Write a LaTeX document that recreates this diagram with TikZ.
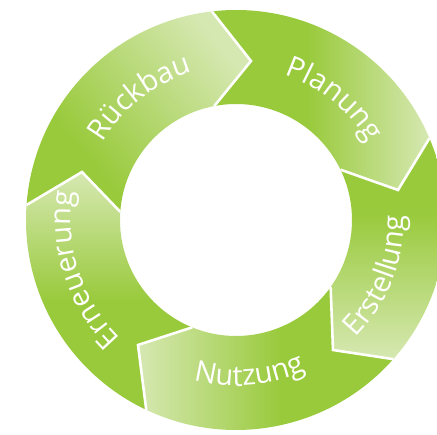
\documentclass[tikz,border=0pt]{standalone}
\usepackage{fontspec}
\setmainfont{Open Sans}
\usetikzlibrary{decorations.text}
\definecolor{ringgreen}{RGB}{153,202,60}
\definecolor{ringlight}{RGB}{214,232,178}
\pgfdeclarehorizontalshading{shPl}{100bp}{color(0bp)=(ringgreen); color(47bp)=(ringgreen); color(75bp)=(ringlight); color(100bp)=(ringlight)}
\pgfdeclarehorizontalshading{shEr}{100bp}{color(0bp)=(ringgreen); color(42bp)=(ringgreen); color(75bp)=(ringlight); color(100bp)=(ringlight)}
\pgfdeclarehorizontalshading{shNu}{100bp}{color(0bp)=(ringgreen); color(47bp)=(ringgreen); color(75bp)=(ringlight); color(100bp)=(ringlight)}
\pgfdeclarehorizontalshading{shEn}{100bp}{color(0bp)=(ringgreen); color(48bp)=(ringgreen); color(75bp)=(ringlight); color(100bp)=(ringlight)}
\pgfdeclarehorizontalshading{shRu}{100bp}{color(0bp)=(ringgreen); color(34bp)=(ringgreen); color(75bp)=(ringlight); color(100bp)=(ringlight)}
\begin{document}
\begin{tikzpicture}[x=1pt,y=1pt,
  sep/.style={draw=white, line width=2.6pt, line join=miter},
  cwlabel/.style={decorate, decoration={text along path, text align=center, text color=white}},
]
\useasboundingbox (-236,-215) rectangle (201,220);
\clip (-236,-215) rectangle (201,220);
% boundary points: outer (O), tip (T), inner (I)
\coordinate (O1) at (96.6:210);  \coordinate (T1) at (15,159);    \coordinate (I1) at (100.8:116);
\coordinate (O2) at (22.9:210);  \coordinate (T2) at (162,30);    \coordinate (I2) at (25.7:116);
\coordinate (O3) at (-41.5:210); \coordinate (T3) at (97,-130);   \coordinate (I3) at (-35.3:116);
\coordinate (O4) at (-115.3:210);\coordinate (T4) at (-98,-125);  \coordinate (I4) at (-112.2:116);
\coordinate (O5) at (175.9:210); \coordinate (T5) at (-154,48);   \coordinate (I5) at (176:116);
% segments
\shade[shading=shRu, shading angle=40]
  (O5) arc[start angle=175.9, end angle=96.6, radius=210] -- (T1) -- (I1)
  arc[start angle=100.8, end angle=176, radius=116] -- (T5) -- cycle;
\shade[shading=shPl, shading angle=0]
  (O1) arc[start angle=96.6, end angle=22.9, radius=210] -- (T2) -- (I2)
  arc[start angle=25.7, end angle=100.8, radius=116] -- (T1) -- cycle;
\shade[shading=shEr, shading angle=270]
  (O2) arc[start angle=22.9, end angle=-41.5, radius=210] -- (T3) -- (I3)
  arc[start angle=-35.3, end angle=25.7, radius=116] -- (T2) -- cycle;
\shade[shading=shNu, shading angle=180]
  (O3) arc[start angle=-41.5, end angle=-115.3, radius=210] -- (T4) -- (I4)
  arc[start angle=-112.2, end angle=-35.3, radius=116] -- (T3) -- cycle;
\shade[shading=shEn, shading angle=90]
  (O4) arc[start angle=244.7, end angle=175.9, radius=210] -- (T5) -- (I5)
  arc[start angle=176, end angle=247.8, radius=116] -- (T4) -- cycle;
% white separators
\draw[sep] (O1) -- (T1) -- (I1);
\draw[sep] (O2) -- (T2) -- (I2);
\draw[sep] (O3) -- (T3) -- (I3);
\draw[sep] (O4) -- (T4) -- (I4);
\draw[sep] (O5) -- (T5) -- (I5);
% labels
\path[cwlabel, decoration={text={|\fontsize{29}{32}\selectfont|Planung}}]
  (96:153) arc[start angle=96, end angle=6, radius=153];
\path[cwlabel, decoration={text={|\fontsize{29}{32}\selectfont|Rückbau}}]
  (173:154) arc[start angle=173, end angle=83, radius=154];
\path[cwlabel, decoration={text={|\fontsize{29}{32}\selectfont|Erneuerung}}]
  (253:165) arc[start angle=253, end angle=143, radius=165];
\path[cwlabel, decoration={text={|\fontsize{29}{32}\selectfont|Nutzung}}]
  (-130:166) arc[start angle=-130, end angle=-40, radius=166];
\path[cwlabel, decoration={text={|\fontsize{29}{32}\selectfont|Erstellung}}]
  (-76.6:168) arc[start angle=-76.6, end angle=33.4, radius=168];
\end{tikzpicture}
\end{document}
